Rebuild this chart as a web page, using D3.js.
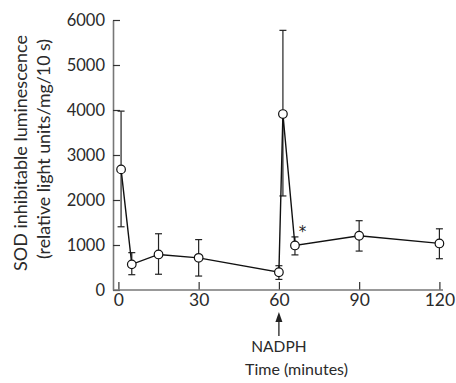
<!DOCTYPE html>
<html><head><meta charset="utf-8">
<script src="https://cdn.jsdelivr.net/npm/d3@7"></script>
<style>body{margin:0;background:#fff}svg{display:block}text{font-family:Lato,"Open Sans",sans-serif;fill:#2a2a2a}</style>
</head><body><svg id="c" width="456" height="383"></svg>
<script>
const times = [1, 5, 15, 30, 60, 61.5, 66, 90, 120];
const means = [2680, 570, 790, 715, 395, 3910, 990, 1205, 1035];
const upper = [3975, 830, 1250, 1120, 540, 5770, 1180, 1540, 1360];
const lower = [1405, 340, 350, 310, 235, 2090, 780, 865, 695];
const xTicks = [0, 30, 60, 90, 120];
const yTicks = [0, 1000, 2000, 3000, 4000, 5000, 6000];

const svg = d3.select("#c");
const x = d3.scaleLinear().domain([0, 120]).range([118.4, 439.4]);
const y = d3.scaleLinear().domain([0, 6000]).range([290, 20]);

// y axis
const ya = svg.append("g").attr("transform", "translate(113,0)")
  .call(d3.axisLeft(y).tickValues(yTicks).tickFormat(d3.format("d")).tickSizeInner(-7).tickSizeOuter(0).tickPadding(8));
ya.select(".domain").attr("stroke", "#777").attr("stroke-width", 1.6);
ya.selectAll(".tick line").attr("stroke", "#333").attr("stroke-width", 1.2);
ya.selectAll(".tick text").style("font-size", "16.5px").attr("fill", "#2a2a2a").attr("font-family", null);

// x axis
const xa = svg.append("g").attr("transform", "translate(0,290)")
  .call(d3.axisBottom(x).tickValues(xTicks).tickSizeInner(-8).tickSizeOuter(0).tickPadding(4));
xa.select(".domain").remove();
xa.selectAll(".tick line").attr("stroke", "#333").attr("stroke-width", 1.2);
xa.selectAll(".tick text").style("font-size", "17.5px").attr("fill", "#2a2a2a").attr("font-family", null);
svg.append("line").attr("x1", 113).attr("x2", 443).attr("y1", 290).attr("y2", 290)
  .attr("stroke", "#777").attr("stroke-width", 1.6);

const data = times.map((t, i) => ({t, m: means[i], hi: upper[i], lo: lower[i]}));

// error bars
const eb = svg.append("g").attr("stroke", "#222").attr("stroke-width", 1.2);
data.forEach(d => {
  eb.append("line").attr("x1", x(d.t)).attr("x2", x(d.t)).attr("y1", y(d.hi)).attr("y2", y(d.lo));
  eb.append("line").attr("x1", x(d.t) - 3.5).attr("x2", x(d.t) + 3.5).attr("y1", y(d.hi)).attr("y2", y(d.hi));
  eb.append("line").attr("x1", x(d.t) - 3.5).attr("x2", x(d.t) + 3.5).attr("y1", y(d.lo)).attr("y2", y(d.lo));
});

// line
svg.append("path").datum(data)
  .attr("d", d3.line().x(d => x(d.t)).y(d => y(d.m)))
  .attr("fill", "none").attr("stroke", "#111").attr("stroke-width", 1.4);

// markers
svg.append("g").selectAll("circle").data(data).join("circle")
  .attr("cx", d => x(d.t)).attr("cy", d => y(d.m)).attr("r", 4.3)
  .attr("fill", "#fff").attr("stroke", "#111").attr("stroke-width", 1.2);

// asterisk
svg.append("text").attr("x", x(66) + 7.5).attr("y", y(990) - 8).attr("text-anchor", "middle")
  .style("font-size", "15px").style("font-family", "'DejaVu Sans'").style("fill", "#222").text("*");

// NADPH arrow
const ax = x(60);
svg.append("line").attr("x1", ax).attr("x2", ax).attr("y1", 320).attr("y2", 336)
  .attr("stroke", "#222").attr("stroke-width", 1.3);
svg.append("path").attr("d", `M${ax},312 L${ax - 3.5},322 L${ax + 3.5},322 Z`).attr("fill", "#222");
svg.append("text").attr("x", ax).attr("y", 352).attr("text-anchor", "middle")
  .style("font-size", "15.5px").text("NADPH");

// axis titles
svg.append("text").attr("x", 296.5).attr("y", 375).attr("text-anchor", "middle")
  .style("font-size", "16px").text("Time (minutes)");
svg.append("text").attr("transform", "translate(27,153) rotate(-90)").attr("text-anchor", "middle")
  .style("font-size", "18px").text("SOD inhibitable luminescence");
svg.append("text").attr("transform", "translate(50,149) rotate(-90)").attr("text-anchor", "middle")
  .style("font-size", "17.8px").text("(relative light units/mg/10 s)");
</script></body></html>
